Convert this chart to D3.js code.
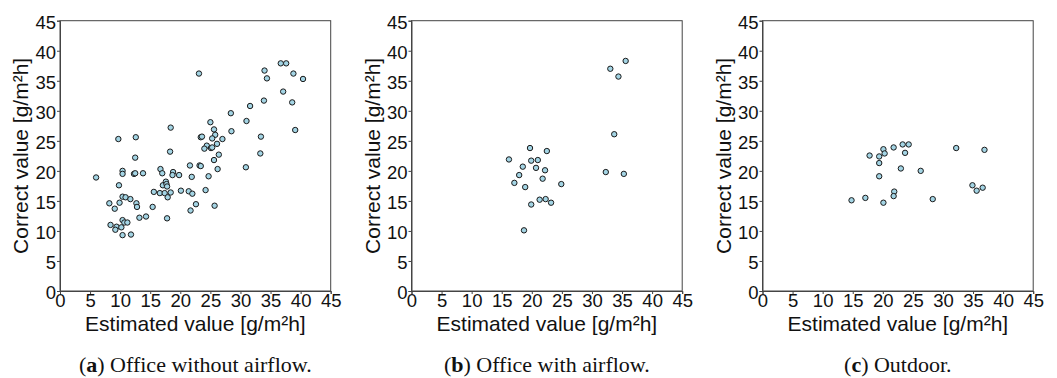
<!DOCTYPE html>
<html>
<head>
<meta charset="utf-8">
<script src="https://cdn.jsdelivr.net/npm/d3@7"></script>
<style>
  body { margin: 0; background: #fff; }
  svg { display: block; }
</style>
</head>
<body>
<svg id="chart"></svg>
<script>
// axis ticks shared by all three panels
const tickValues = [0, 5, 10, 15, 20, 25, 30, 35, 40, 45];

const captionLetters = ["a", "b", "c"];
const captionTexts = [" Office without airflow.", " Office with airflow.", " Outdoor."];

// (a) office without airflow: [estimated, correct]
const officeNoAirflow = [
  [6.0, 18.9], [9.7, 25.3], [12.6, 25.6], [12.5, 22.2], [18.4, 27.2], [18.3, 23.2],
  [23.1, 36.2], [23.4, 25.6], [23.6, 25.7], [25.0, 28.1], [25.6, 26.9], [25.8, 26.0],
  [25.3, 25.4], [27.0, 25.3], [24.4, 24.2], [24.0, 23.7], [25.1, 23.8], [25.3, 23.9],
  [26.1, 24.5], [26.4, 22.7], [25.6, 21.8], [26.2, 20.3], [28.4, 29.6], [28.5, 26.6],
  [31.0, 28.3], [31.6, 30.8], [30.9, 20.6], [33.3, 22.9], [33.4, 25.7], [33.9, 31.7],
  [34.0, 36.7], [34.4, 35.4], [36.7, 37.9], [37.6, 37.9], [37.1, 33.2], [38.8, 36.2],
  [38.6, 31.4], [39.1, 26.8], [40.4, 35.3],
  [10.4, 20.0], [10.4, 19.5], [9.8, 17.6], [12.3, 19.5], [12.5, 19.6], [13.8, 19.6],
  [8.2, 14.6], [9.9, 14.7], [9.1, 13.7], [10.4, 15.7], [10.9, 15.6], [11.7, 15.3],
  [12.7, 14.6], [12.8, 14.0], [13.2, 12.2], [14.3, 12.4], [8.4, 11.0], [9.4, 10.7],
  [9.2, 10.2], [10.2, 10.6], [10.4, 11.8], [10.7, 11.4], [11.2, 11.4], [10.4, 9.3],
  [11.8, 9.4], [15.4, 14.0], [15.6, 16.5], [16.6, 16.3], [16.7, 20.3], [17.0, 19.6],
  [17.1, 17.6], [17.4, 16.3], [17.6, 18.2], [17.7, 17.8], [17.8, 17.4], [17.9, 15.6],
  [18.4, 16.4], [17.8, 12.1], [18.8, 19.8], [18.7, 19.3], [19.8, 19.3], [20.1, 16.7],
  [21.6, 20.9], [21.9, 19.0], [21.4, 16.6], [22.0, 16.2], [21.7, 13.4], [22.6, 14.45],
  [23.2, 20.9], [23.4, 20.8], [24.7, 19.1], [24.2, 16.8], [25.7, 14.2]
];

// (b) office with airflow
const officeAirflow = [
  [16.2, 21.9], [19.7, 23.8], [22.5, 23.3], [18.5, 20.7], [19.9, 21.7], [21.0, 21.8],
  [20.7, 20.5], [22.2, 20.1], [17.9, 19.3], [21.8, 18.7], [17.1, 18.0], [18.9, 17.3],
  [24.9, 17.8], [21.3, 15.2], [22.3, 15.3], [23.2, 14.7], [19.9, 14.4], [18.7, 10.1],
  [33.05, 37.0], [35.6, 38.3], [34.4, 35.7], [33.7, 26.1], [32.3, 19.8], [35.3, 19.5]
];

// (c) outdoor
const outdoor = [
  [17.8, 22.55], [19.4, 22.4], [19.4, 21.3], [19.4, 19.1], [20.1, 23.6], [20.3, 22.9],
  [21.8, 23.9], [23.3, 24.4], [24.3, 24.4], [23.7, 23.0], [23.0, 20.4], [26.3, 20.0],
  [32.2, 23.8], [36.9, 23.5], [14.8, 15.1], [17.1, 15.5], [20.1, 14.7], [21.9, 16.55],
  [21.8, 15.8], [28.3, 15.3], [34.9, 17.6], [35.6, 16.7], [36.6, 17.2]
];

const panels = [officeNoAirflow, officeAirflow, outdoor];

const W = 1057, H = 378;
const panelLeft = [60, 411.5, 762.5];
const plotW = 270.7;
const plotTop = 20.7, plotBottom = 291;

const svg = d3.select("#chart").attr("width", W).attr("height", H);
svg.append("rect").attr("width", W).attr("height", H).attr("fill", "#fff");

const sans = "'Liberation Sans', Arial, Helvetica, sans-serif";

panels.forEach((data, i) => {
  const left = panelLeft[i];
  const x = d3.scaleLinear().domain([0, 45]).range([left, left + plotW]);
  const y = d3.scaleLinear().domain([0, 45]).range([plotBottom, plotTop]);

  const g = svg.append("g");

  // frame
  g.append("rect")
    .attr("x", left).attr("y", plotTop)
    .attr("width", plotW).attr("height", plotBottom - plotTop)
    .attr("fill", "none").attr("stroke", "#444").attr("stroke-width", 1);

  const xAxis = g.append("g")
    .attr("transform", `translate(0,${plotBottom})`)
    .call(d3.axisBottom(x).tickValues(tickValues).tickSize(3).tickPadding(0));
  const yAxis = g.append("g")
    .attr("transform", `translate(${left},0)`)
    .call(d3.axisLeft(y).tickValues(tickValues).tickSize(3).tickPadding(1));

  [xAxis, yAxis].forEach(a => {
    a.select(".domain").attr("stroke", "#444");
    a.selectAll(".tick line").attr("stroke", "#444");
    a.selectAll("text")
      .attr("font-family", sans)
      .attr("font-size", 18.5)
      .attr("fill", "#111");
  });
  yAxis.selectAll("text").attr("dy", "0.4em");

  // points
  g.append("g")
    .selectAll("circle")
    .data(data)
    .enter()
    .append("circle")
    .attr("cx", d => x(d[0]))
    .attr("cy", d => y(d[1]))
    .attr("r", 2.7)
    .attr("fill", "#a3d4e4")
    .attr("stroke", "#1a1a1a")
    .attr("stroke-width", 1);

  // axis titles
  g.append("text")
    .attr("x", left + plotW / 2)
    .attr("y", 330.5)
    .attr("text-anchor", "middle")
    .attr("font-family", sans)
    .attr("font-size", 21)
    .attr("fill", "#111")
    .text("Estimated value [g/m²h]");

  g.append("text")
    .attr("transform", `translate(${left - 32},${(plotTop + plotBottom) / 2}) rotate(-90)`)
    .attr("text-anchor", "middle")
    .attr("font-family", sans)
    .attr("font-size", 21)
    .attr("fill", "#111")
    .text("Correct value [g/m²h]");

  // caption
  const cap = g.append("text")
    .attr("x", left + plotW / 2)
    .attr("y", 372)
    .attr("text-anchor", "middle")
    .attr("font-family", "'Liberation Serif', 'Times New Roman', serif")
    .attr("font-size", 22)
    .attr("fill", "#111");
  cap.append("tspan").text("(");
  cap.append("tspan").attr("font-weight", "bold").text(captionLetters[i]);
  cap.append("tspan").text(")" + captionTexts[i]);
});
</script>
</body>
</html>
